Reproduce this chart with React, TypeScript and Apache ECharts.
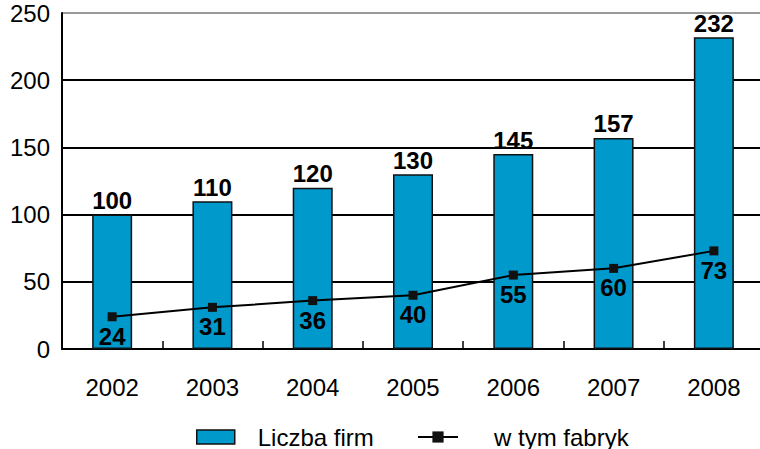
import React, { useEffect, useRef } from "react";
import * as echarts from "echarts";

const years = ["2002", "2003", "2004", "2005", "2006", "2007", "2008"];
const firms = [100, 110, 120, 130, 145, 157, 232];
const factories = [24, 31, 36, 40, 55, 60, 73];
const FONT = "'Liberation Sans', Arial, Helvetica, sans-serif";

export default function App() {
  const ref = useRef<HTMLDivElement>(null);
  useEffect(() => {
    if (!ref.current) return;
    const chart = echarts.init(ref.current, null, { renderer: "svg" });
    chart.setOption({
      animation: false,
      backgroundColor: "#ffffff",
      textStyle: { fontFamily: FONT },
      grid: { left: 62, top: 13, width: 702, height: 336, containLabel: false },
      legend: [
        {
          data: [{ name: "Liczba firm", icon: "rect" }],
          left: 191,
          top: 420,
          itemWidth: 38,
          itemHeight: 14,
          itemStyle: { borderColor: "#111", borderWidth: 1.5 },
          textStyle: { fontSize: 24, color: "#000", fontFamily: FONT, padding: [0, 0, 0, 18] },
        },
        {
          data: ["w tym fabryk"],
          left: 412,
          top: 420,
          itemWidth: 40,
          itemHeight: 14,
          textStyle: { fontSize: 24, color: "#000", fontFamily: FONT, padding: [0, 0, 0, 31] },
        },
      ],
      xAxis: {
        type: "category",
        data: years,
        boundaryGap: true,
        axisLine: { show: true, lineStyle: { color: "#000", width: 2 } },
        axisTick: { show: true, inside: true, length: 8, lineStyle: { color: "#000", width: 1.5 } },
        axisLabel: { fontSize: 24, color: "#000", fontFamily: FONT, margin: 26 },
        splitLine: { show: false },
      },
      yAxis: {
        type: "value",
        min: 0,
        max: 250,
        interval: 50,
        axisLine: { show: true, lineStyle: { color: "#000", width: 2 } },
        axisTick: { show: false },
        axisLabel: { fontSize: 24, color: "#000", fontFamily: FONT, margin: 12 },
        splitLine: {
          show: true,
          lineStyle: { color: ["#000", "#000", "#000", "#000", "#000", "#999"], width: 2 },
        },
      },
      series: [
        {
          name: "Liczba firm",
          type: "bar",
          data: firms,
          barWidth: 40,
          itemStyle: { color: "#0099cc", borderColor: "#111", borderWidth: 1.5 },
          label: {
            show: true,
            position: "top",
            distance: 2,
            fontSize: 24,
            fontWeight: "bold",
            color: "#000",
            fontFamily: FONT,
          },
          z: 2,
        },
        {
          name: "w tym fabryk",
          type: "line",
          data: factories,
          symbol: "rect",
          symbolSize: 9,
          lineStyle: { color: "#000", width: 2 },
          itemStyle: { color: "#111" },
          label: {
            show: true,
            position: "bottom",
            distance: 3,
            fontSize: 24,
            fontWeight: "bold",
            color: "#000",
            fontFamily: FONT,
          },
          z: 3,
        },
      ],
    });
    return () => chart.dispose();
  }, []);
  return (
    <div
      style={{ position: "absolute", left: 0, top: 0, width: 760, height: 449, overflow: "hidden", background: "#fff" }}
    >
      <div ref={ref} style={{ width: 770, height: 449 }} />
    </div>
  );
}
